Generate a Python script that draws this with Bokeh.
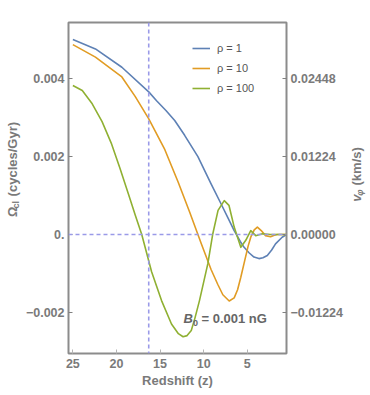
import math
from bokeh.plotting import figure
from bokeh.layouts import row
from bokeh.models import (Range1d, LinearAxis, FixedTicker, Span, Label,
                          Legend, LegendItem)
from bokeh.core.properties import value
from bokeh.embed import file_html
from bokeh.resources import INLINE

# ---------------- data ----------------
z_rho1 = [25.0, 22.41, 19.38, 16.27, 15.40, 14.3, 13.32, 12.18, 10.66, 9.15,
          8.01, 7.2, 6.50, 5.8, 5.36, 4.8, 4.23, 3.66, 3.2, 2.70, 2.2, 1.76,
          1.0, 0.5]
omega_rho1 = [0.00501, 0.00477, 0.00430, 0.00366, 0.00344, 0.00318, 0.00293,
              0.00255, 0.00200, 0.00130, 0.00079, 0.00042, 0.00010, -0.00018,
              -0.00033, -0.00047, -0.00058, -0.00062, -0.00060, -0.00054,
              -0.00040, -0.00024, -0.00007, 0.0]

z_rho10 = [25.0, 22.41, 19.38, 17.86, 16.31, 14.45, 12.93, 11.61, 10.66,
           10.28, 9.15, 8.39, 7.8, 7.07, 6.5, 6.11, 5.74, 5.3, 4.9, 4.60,
           4.2, 3.84, 3.4, 2.90, 2.33, 1.9, 1.57, 0.5]
omega_rho10 = [0.00488, 0.00456, 0.00405, 0.00355, 0.00298, 0.00218, 0.00135,
               0.00058, 0.0, -0.00023, -0.00090, -0.00128, -0.00155,
               -0.00171, -0.00163, -0.00142, -0.00110, -0.00068, -0.00030,
               -0.00007, 0.00012, 0.00019, 0.00010, -0.00003, -0.00006,
               -0.00002, 0.0, 0.0]

z_rho100 = [25.0, 23.92, 22.78, 21.65, 20.6, 19.6, 18.61, 17.85, 17.10,
            15.97, 14.83, 13.69, 12.9, 12.36, 11.9, 11.42, 11.0, 10.48, 9.52,
            8.95, 8.35, 7.64, 7.10, 6.50, 5.74, 5.17, 4.60, 4.03, 3.27, 2.33,
            0.5]
omega_rho100 = [0.00383, 0.00370, 0.00336, 0.00290, 0.00235, 0.00170, 0.00103,
                0.00050, 0.0, -0.00096, -0.00170, -0.00230, -0.00255,
                -0.00263, -0.00260, -0.00247, -0.00215, -0.00170, -0.00075,
                0.00002, 0.00062, 0.00087, 0.00075, 0.00019, -0.00033,
                -0.00015, 0.00010, -0.00003, 0.00002, 0.0, 0.0]

series_names = ["ρ = 1", "ρ = 10", "ρ = 100"]
series_colors = ["#5E81B5", "#E19C24", "#8FB032"]

x_ticks = [25, 20, 15, 10, 5]
x_tick_labels = ["25", "20", "15", "10", "5"]
y_ticks = [0.004, 0.002, 0.0, -0.002]
y_tick_labels = ["0.004", "0.002", "0.", "\u22120.002"]
v_ticks = [0.02448, 0.01224, 0.0, -0.01224]
v_tick_labels = ["0.02448", "0.01224", "0.00000", "\u22120.01224"]
v_per_omega = 6.12          # right-axis scale factor
z_marker = 16.3             # vertical dashed line
omega_marker = 0.0          # horizontal dashed line

x_lo, x_hi = 25.5, 0.5
y_lo, y_hi = -0.00306, 0.00545

FONT = "Liberation Sans"
GRAY = "#7a7a7a"
FRAME = "#8c8c8c"
DASH = "#9a9ae8"
H = 395

p = figure(width=326, height=H, output_backend="svg",
           toolbar_location=None, x_range=Range1d(x_lo, x_hi),
           y_range=Range1d(y_lo, y_hi),
           min_border_left=44, min_border_right=62, min_border_top=22,
           min_border_bottom=42)
p.xgrid.visible = False
p.ygrid.visible = False
p.outline_line_color = FRAME
p.outline_line_width = 2
p.background_fill_color = "white"
p.border_fill_color = "white"

p.extra_y_ranges = {"v": Range1d(y_lo * v_per_omega, y_hi * v_per_omega)}


def style_axis(ax, tick_color):
    ax.axis_line_color = None
    ax.major_tick_in = 4
    ax.major_tick_out = 0
    ax.minor_tick_line_color = None
    ax.major_tick_line_color = tick_color
    ax.major_tick_line_width = 1
    ax.major_label_text_font = FONT
    ax.major_label_text_font_style = "bold"
    ax.major_label_text_font_size = "12.5px"
    ax.major_label_text_color = GRAY


# bottom axis
xa = p.xaxis[0]
xa.ticker = FixedTicker(ticks=x_ticks)
xa.major_label_overrides = {t: l for t, l in zip(x_ticks, x_tick_labels)}
style_axis(xa, "#b5b5b5")
xa.major_label_standoff = 5
xa.axis_label = "Redshift (z)"
xa.axis_label_text_font = FONT
xa.axis_label_text_font_style = "bold"
xa.axis_label_text_font_size = "13px"
xa.axis_label_text_color = GRAY
xa.axis_label_standoff = 2

# left axis
ya = p.yaxis[0]
ya.ticker = FixedTicker(ticks=y_ticks)
ya.major_label_overrides = {t: l for t, l in zip(y_ticks, y_tick_labels)}
style_axis(ya, "#808080")
ya.major_label_standoff = 4

# right axis
ra = LinearAxis(y_range_name="v", ticker=FixedTicker(ticks=v_ticks))
ra.major_label_overrides = {t: l for t, l in zip(v_ticks, v_tick_labels)}
style_axis(ra, "#808080")
ra.major_label_standoff = 4
p.add_layout(ra, "right")

# reference lines
p.add_layout(Span(location=omega_marker, dimension="width", line_color=DASH,
                  line_dash="4 3", line_width=1.6))
p.add_layout(Span(location=z_marker, dimension="height", line_color=DASH,
                  line_dash="4 3", line_width=1.6))

renderers = []
for zs, om, col in zip([z_rho1, z_rho10, z_rho100],
                       [omega_rho1, omega_rho10, omega_rho100], series_colors):
    r = p.line(zs, om, line_color=col, line_width=1.6, line_join="round")
    renderers.append(r)

legend = Legend(items=[LegendItem(label=n, renderers=[r])
                       for n, r in zip(series_names, renderers)],
                location=(124, 255), padding=0, margin=0, spacing=0,
                glyph_width=18, glyph_height=20, label_height=20,
                label_standoff=7, border_line_color=None,
                background_fill_alpha=0, label_text_font=FONT,
                label_text_font_size="11px", label_text_color="#555555")
p.add_layout(legend)

# B0 annotation (screen units relative to frame)
p.add_layout(Label(x=115, y=35, x_units="screen", y_units="screen", text="B",
                   text_font=FONT, text_font_style="bold italic",
                   text_font_size="13px", text_color="#666666",
                   text_baseline="alphabetic"))
p.add_layout(Label(x=124.5, y=31, x_units="screen", y_units="screen", text="0",
                   text_font=FONT, text_font_style="bold",
                   text_font_size="9px", text_color="#666666",
                   text_baseline="alphabetic"))
p.add_layout(Label(x=133, y=35, x_units="screen", y_units="screen",
                   text="= 0.001 nG", text_font=FONT, text_font_style="bold",
                   text_font_size="13px", text_color="#666666",
                   text_baseline="alphabetic"))


def title_strip(width, pieces):
    """A narrow figure holding a rotated axis title made of text pieces."""
    f = figure(width=width, height=H, output_backend="svg",
               toolbar_location=None, x_range=Range1d(0, width),
               y_range=Range1d(0, H), min_border=0)
    f.axis.visible = False
    f.xgrid.visible = False
    f.ygrid.visible = False
    f.outline_line_color = None
    for (x, y, txt, size, style) in pieces:
        f.text(x=[x], y=[y], text=[txt], angle=math.pi / 2,
               text_font=value(FONT), text_font_style=style,
               text_font_size=size, text_color=GRAY,
               text_align="left", text_baseline="middle")
    return f


# left title: Omega_cl (cycles/Gyr)
ly = H - 232
left_strip = title_strip(22, [
    (12, ly, "Ω", "13px", "bold"),
    (15.5, ly + 10, "cl", "9px", "bold"),
    (12, ly + 24.5, "(cycles/Gyr)", "13px", "bold"),
])

# right title: v_phi (km/s)
ry = H - 214
right_strip = title_strip(22, [
    (8, ry, "v", "13px", "bold italic"),
    (11.5, ry + 7.3, "φ", "9px", "bold italic"),
    (8, ry + 19.5, "(km/s)", "13px", "bold"),
])

layout = row(left_strip, p, right_strip, spacing=0)
open("out.html", "w").write(file_html(layout, INLINE))
